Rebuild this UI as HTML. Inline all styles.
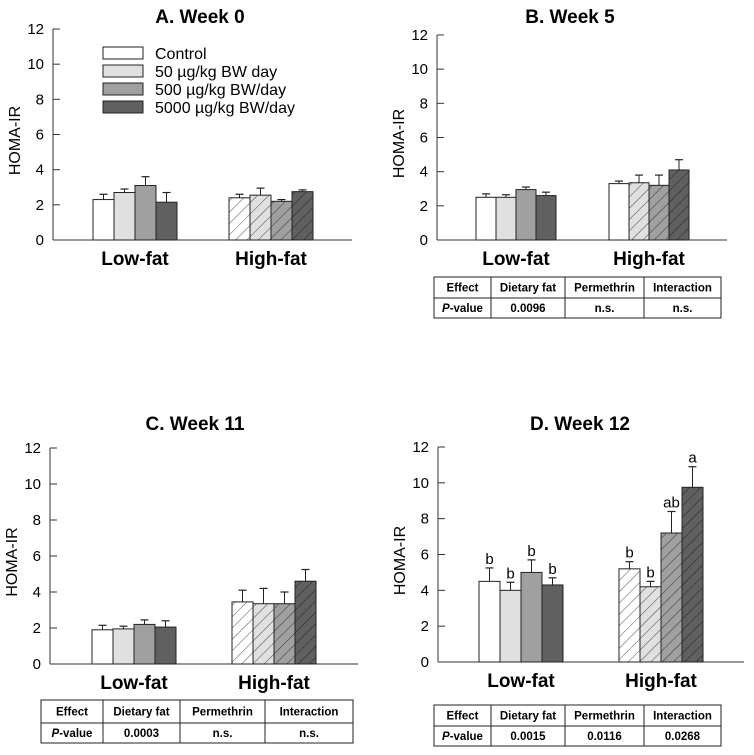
<!DOCTYPE html>
<html><head><meta charset="utf-8"><style>
html,body{margin:0;padding:0;background:#fff;}
svg{display:block;font-family:"Liberation Sans",Arial,sans-serif;}
</style></head><body>
<svg id="chart" width="754" height="755" viewBox="0 0 754 755" xmlns="http://www.w3.org/2000/svg">
<defs>
<pattern id="h0" patternUnits="userSpaceOnUse" width="8" height="8" patternTransform="rotate(45)"><rect width="8" height="8" fill="#ffffff"/><line x1="0" y1="0" x2="0" y2="8" stroke="#555" stroke-width="1"/></pattern>
<pattern id="h1" patternUnits="userSpaceOnUse" width="8" height="8" patternTransform="rotate(45)"><rect width="8" height="8" fill="#e0e0e0"/><line x1="0" y1="0" x2="0" y2="8" stroke="#444" stroke-width="1"/></pattern>
<pattern id="h2" patternUnits="userSpaceOnUse" width="8" height="8" patternTransform="rotate(45)"><rect width="8" height="8" fill="#a0a0a0"/><line x1="0" y1="0" x2="0" y2="8" stroke="#333" stroke-width="1"/></pattern>
<pattern id="h3" patternUnits="userSpaceOnUse" width="8" height="8" patternTransform="rotate(45)"><rect width="8" height="8" fill="#606060"/><line x1="0" y1="0" x2="0" y2="8" stroke="#222" stroke-width="1"/></pattern>
</defs>
</svg>
<script>
const groups = ["Low-fat","High-fat"];
const series = ["Control","50 µg/kg BW day","500 µg/kg BW/day","5000 µg/kg BW/day"];
const yTicks = [0,2,4,6,8,10,12];
const fills = ["#ffffff","#e0e0e0","#a0a0a0","#606060"];
// values [group][series]
const weekA = [[2.3,2.7,3.1,2.15],[2.4,2.55,2.2,2.75]];
const errA  = [[0.3,0.2,0.5,0.55],[0.2,0.4,0.1,0.1]];
const weekB = [[2.5,2.5,2.95,2.6],[3.3,3.35,3.2,4.1]];
const errB  = [[0.2,0.15,0.15,0.2],[0.15,0.45,0.6,0.6]];
const weekC = [[1.9,1.95,2.2,2.05],[3.45,3.35,3.35,4.6]];
const errC  = [[0.25,0.15,0.25,0.35],[0.65,0.85,0.65,0.65]];
const weekD = [[4.5,4.0,5.0,4.3],[5.2,4.2,7.2,9.75]];
const errD  = [[0.75,0.45,0.7,0.4],[0.4,0.3,1.2,1.15]];
const lettersD = [["b","b","b","b"],["b","b","ab","a"]];
const tableHeader = ["Effect","Dietary fat","Permethrin","Interaction"];
const pB = ["P-value","0.0096","n.s.","n.s."];
const pC = ["P-value","0.0003","n.s.","n.s."];
const pD = ["P-value","0.0015","0.0116","0.0268"];

const svg = document.getElementById('chart');
const NS = "http://www.w3.org/2000/svg";
function mk(tag, attrs, parent){
  const e = document.createElementNS(NS, tag);
  for (const k in attrs) e.setAttribute(k, attrs[k]);
  (parent||svg).appendChild(e);
  return e;
}
function txt(x,y,s,size,weight,anchor,parent){
  const t = mk('text',{x:x,y:y,'font-size':size,'font-weight':weight||'normal','text-anchor':anchor||'middle',fill:'#000'},parent);
  t.textContent = s; return t;
}

function panel(cfg){
  const g = mk('g',{});
  
  
  const ymax = 12;
  const yS = v => cfg.y0 - (v/ymax)*(cfg.y0-cfg.y12);
  const tt = txt(cfg.titleX, cfg.titleY, cfg.title, 19, 'bold', 'middle', g);
  
  
  const ya = mk('line',{x1:cfg.ax,y1:cfg.y12,x2:cfg.ax,y2:cfg.y0,stroke:'#333','stroke-width':1},g);
  
  
  const xa = mk('line',{x1:cfg.ax,y1:cfg.y0,x2:cfg.axR,y2:cfg.y0,stroke:'#333','stroke-width':1},g);
  
  
  yTicks.forEach(v=>{
    const y = yS(v);
    mk('line',{x1:cfg.ax,y1:y,x2:cfg.ax+7,y2:y,stroke:'#333','stroke-width':1},g);
    const tl = txt(cfg.ax-9, y+5, String(v), 15, 'normal', 'end', g);
    
    
  });
  const yl = txt(0,0,'HOMA-IR',16,'normal','middle',g);
  yl.setAttribute('transform',`translate(${cfg.ax-33},${(cfg.y0+cfg.y12)/2+6}) rotate(-90)`);
  
  
  groups.forEach((gn,gi)=>{
    const gx = cfg.gx[gi];
    const bw = cfg.bw;
    cfg.vals[gi].forEach((v,si)=>{
      const x = gx + si*bw;
      const top = yS(v);
      const e = cfg.errs[gi][si];
      const ey = yS(v+e);
      const cx = x + bw/2;
      const el = mk('line',{x1:cx,y1:top,x2:cx,y2:ey,stroke:'#222','stroke-width':1},g);
      
      
      mk('line',{x1:cx-4,y1:ey,x2:cx+4,y2:ey,stroke:'#222','stroke-width':1.2},g);
      const hatched = gi===1 && !(cfg.noHatchHFControl && si===0);
      const r = mk('rect',{x:x,y:top,width:bw,height:cfg.y0-top,fill: hatched?`url(#h${si})`:fills[si],stroke:'#222','stroke-width':1},g);
      
      
      if (cfg.letters){
        const lt = txt(cx, ey-4, cfg.letters[gi][si], 15, 'normal', 'middle', g);
        
        
      }
    });
    const gl = txt(gx+2*cfg.bw, cfg.y0+25, gn, 19, 'bold', 'middle', g);
    
    
  });
  if (cfg.table){
    const T = cfg.table;
    const tg = mk('g',{},g);
    
    
    mk('rect',{x:T.x0,y:T.y0,width:T.x1-T.x0,height:T.y1-T.y0,fill:'none',stroke:'#222','stroke-width':1},tg);
    mk('line',{x1:T.x0,y1:T.ym,x2:T.x1,y2:T.ym,stroke:'#222','stroke-width':1},tg);
    const cols = [T.x0].concat(T.cols).concat([T.x1]);
    T.cols.forEach(c=>mk('line',{x1:c,y1:T.y0,x2:c,y2:T.y1,stroke:'#222','stroke-width':1},tg));
    for (let i=0;i<4;i++){
      const cx = (cols[i]+cols[i+1])/2;
      txt(cx,(T.y0+T.ym)/2+4,tableHeader[i],11.5,'bold','middle',tg);
      if (i===0){
        const t = mk('text',{x:cx,y:(T.ym+T.y1)/2+4,'font-size':11.5,'font-weight':'bold','text-anchor':'middle'},tg);
        const p = mk('tspan',{'font-style':'italic'},t); p.textContent='P';
        const r = mk('tspan',{},t); r.textContent='-value';
      } else {
        txt(cx,(T.ym+T.y1)/2+4,T.row[i],11.5,'bold','middle',tg);
      }
    }
  }
  return g;
}

panel({name:'panel-a-week-0',title:'A. Week 0',titleX:200,titleY:23,ax:53,axR:352,y0:240,y12:29,gx:[93,229],bw:21,vals:weekA,errs:errA});
panel({name:'panel-b-week-5',title:'B. Week 5',titleX:570,titleY:23,ax:437,axR:727,y0:240,y12:35,gx:[476,609],bw:20,vals:weekB,errs:errB,noHatchHFControl:true,
  table:{x0:434,x1:721,y0:277,ym:298,y1:318,cols:[491,565,644],row:pB}});
panel({name:'panel-c-week-11',title:'C. Week 11',titleX:195,titleY:430,ax:50,axR:358,y0:664,y12:448,gx:[92,232],bw:21,vals:weekC,errs:errC,
  table:{x0:41,x1:353,y0:700,ym:723,y1:743,cols:[103,180,265],row:pC}});
panel({name:'panel-d-week-12',title:'D. Week 12',titleX:580,titleY:430,ax:438,axR:744,y0:662,y12:447,gx:[479,619],bw:21,vals:weekD,errs:errD,letters:lettersD,
  table:{x0:434,x1:721,y0:705,ym:726,y1:746,cols:[491,565,644],row:pD}});

const lg = mk('g',{});


const legY = [53,71,89,107];
series.forEach((s,i)=>{
  const r = mk('rect',{x:103,y:legY[i]-6,width:40,height:12,fill:fills[i],stroke:'#222','stroke-width':1},lg);
  
  
  const t = txt(155,legY[i]+6,s,16,'normal','start',lg);
  
  
});
</script>
</body></html>
